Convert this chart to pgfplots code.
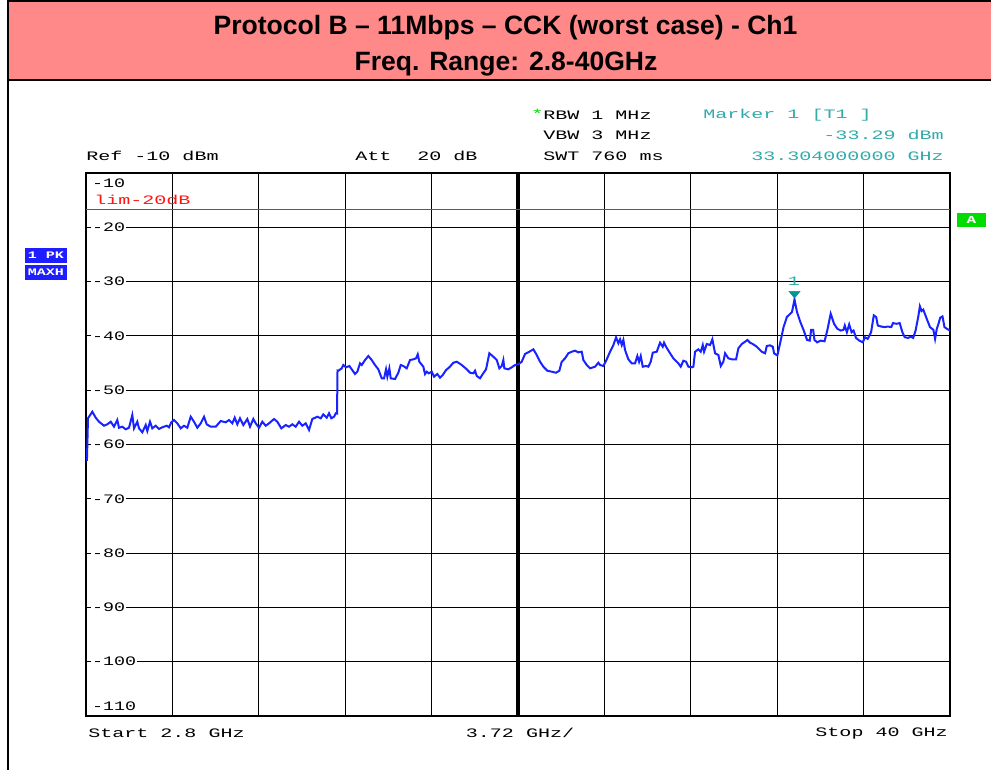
\documentclass[border=0pt]{standalone}
\usepackage{pgfplots}
\pgfplotsset{compat=1.18}
\usepackage{pgfplotstable}
\usepackage{fontspec}
\setmainfont{Liberation Sans}
\newfontfamily\rsmono[FakeStretch=1.55]{Liberation Mono}
\newfontfamily\rstick[FakeStretch=1.42]{Liberation Mono}
\newfontfamily\rsbold[FakeStretch=1.5]{Liberation Mono Bold}
\definecolor{salmon}{RGB}{255,136,136}
\definecolor{traceblue}{RGB}{25,35,255}
\definecolor{markteal}{RGB}{0,150,150}
\definecolor{txtteal}{RGB}{51,170,170}
\definecolor{limred}{RGB}{255,20,20}
\definecolor{agreen}{RGB}{0,220,0}
\definecolor{boxblue}{RGB}{30,30,255}

\pgfplotstableread{
f dB
2.80 -62.0
2.84 -63.0
2.886 -55.17
3.071 -53.96
3.218 -55.06
3.36 -55.80
3.575 -56.54
3.717 -56.28
3.864 -55.80
4.006 -56.72
4.148 -55.49
4.221 -56.91
4.363 -56.72
4.509 -57.20
4.652 -56.91
4.794 -54.57
4.867 -57.02
5.009 -55.80
5.082 -57.02
5.224 -57.75
5.371 -56.41
5.44 -57.51
5.556 -55.80
5.655 -57.02
5.801 -56.54
5.943 -57.14
6.085 -56.83
6.275 -56.54
6.374 -56.83
6.473 -55.91
6.589 -55.49
6.731 -56.10
6.878 -57.02
7.020 -56.54
7.162 -56.91
7.308 -54.88
7.450 -55.80
7.593 -56.91
7.739 -56.10
7.881 -54.88
7.997 -56.28
8.170 -56.72
8.385 -56.72
8.600 -55.67
8.815 -55.91
8.958 -55.49
9.100 -56.10
9.203 -55.06
9.315 -56.28
9.431 -55.17
9.573 -56.41
9.746 -55.30
9.862 -56.72
10.004 -55.30
10.107 -56.10
10.249 -56.91
10.391 -55.80
10.538 -56.54
10.680 -56.10
10.895 -55.30
11.037 -55.80
11.210 -57.02
11.399 -56.41
11.541 -56.72
11.683 -56.28
11.830 -56.72
11.972 -55.80
12.114 -56.54
12.260 -56.10
12.402 -57.33
12.544 -55.30
12.760 -54.88
12.906 -55.17
13.018 -54.44
13.165 -55.06
13.264 -54.25
13.363 -55.17
13.479 -54.88
13.552 -54.25
13.608 -54.30
13.629 -46.37
13.664 -46.41
13.810 -45.97
13.879 -45.36
13.996 -45.78
14.138 -45.54
14.241 -46.15
14.383 -47.02
14.482 -46.59
14.598 -45.05
14.671 -45.36
14.814 -44.44
14.956 -43.70
15.102 -44.44
15.244 -45.36
15.386 -46.15
15.533 -47.81
15.632 -47.81
15.718 -46.15
15.774 -47.51
15.860 -45.97
15.920 -47.81
16.105 -47.94
16.247 -46.78
16.351 -45.36
16.463 -45.54
16.609 -45.97
16.751 -44.44
16.893 -44.31
17.010 -44.13
17.083 -43.39
17.152 -44.75
17.324 -45.67
17.397 -47.02
17.470 -46.59
17.556 -46.89
17.686 -46.59
17.785 -47.51
17.927 -47.02
18.043 -47.70
18.159 -47.20
18.302 -46.28
18.444 -45.78
18.616 -44.94
18.762 -44.75
18.874 -45.05
18.978 -45.36
19.193 -46.15
19.335 -46.78
19.477 -46.89
19.550 -46.41
19.623 -47.38
19.766 -47.81
19.882 -47.02
20.024 -46.15
20.166 -43.20
20.338 -43.83
20.485 -44.44
20.597 -45.97
20.700 -45.54
20.769 -44.44
20.812 -45.97
20.984 -46.15
21.131 -45.78
21.273 -45.36
21.415 -45.23
21.561 -44.75
21.703 -43.33
21.888 -42.91
22.060 -42.47
22.207 -43.52
22.349 -44.75
22.491 -45.67
22.663 -46.41
22.853 -46.59
23.038 -46.78
23.180 -46.41
23.283 -44.75
23.425 -44.13
23.567 -43.20
23.714 -42.91
23.856 -42.72
23.998 -43.02
24.145 -42.91
24.214 -44.44
24.360 -45.36
24.502 -45.97
24.717 -45.67
24.860 -44.94
24.933 -45.36
25.075 -45.54
25.221 -44.31
25.363 -42.91
25.506 -41.68
25.622 -40.26
25.721 -41.36
25.794 -40.63
25.867 -41.68
25.936 -40.75
26.009 -42.60
26.151 -44.31
26.297 -45.05
26.439 -45.05
26.538 -43.70
26.612 -44.75
26.685 -43.70
26.771 -45.67
26.913 -45.54
27.012 -45.67
27.115 -44.75
27.202 -43.09
27.374 -42.91
27.516 -41.25
27.632 -41.99
27.688 -41.25
27.774 -41.99
27.947 -43.20
28.089 -44.13
28.304 -45.05
28.407 -45.67
28.519 -44.57
28.636 -44.75
28.735 -45.67
28.881 -45.78
28.950 -45.67
29.023 -42.91
29.165 -42.47
29.268 -42.91
29.355 -41.68
29.411 -42.91
29.527 -41.49
29.669 -41.68
29.768 -40.63
29.885 -43.20
30.027 -43.52
30.130 -45.54
30.242 -44.75
30.315 -43.20
30.457 -44.13
30.604 -44.31
30.789 -44.31
30.888 -42.28
31.034 -41.49
31.176 -41.07
31.275 -40.75
31.392 -41.25
31.508 -41.49
31.680 -41.99
31.895 -42.91
32.038 -43.20
32.111 -41.86
32.253 -41.73
32.369 -41.99
32.425 -43.20
32.567 -43.61
32.684 -41.36
32.834 -38.36
32.976 -36.52
33.122 -35.91
33.196 -35.60
33.304 -33.29
33.411 -35.60
33.556 -37.44
33.703 -39.01
33.845 -40.75
33.961 -40.87
34.022 -38.88
34.108 -38.88
34.164 -40.75
34.280 -41.18
34.427 -40.87
34.599 -40.99
34.715 -39.01
34.862 -35.91
35.008 -37.77
35.150 -38.69
35.297 -39.01
35.413 -38.88
35.469 -38.08
35.560 -39.32
35.659 -37.88
35.762 -39.32
35.848 -39.01
35.952 -40.37
36.094 -40.87
36.240 -41.18
36.343 -40.24
36.455 -40.55
36.602 -39.32
36.718 -36.22
36.821 -36.52
36.890 -38.08
37.036 -38.27
37.183 -38.38
37.325 -38.27
37.471 -38.38
37.545 -37.64
37.691 -37.77
37.833 -37.64
37.949 -39.32
38.053 -40.24
38.195 -40.37
38.311 -40.13
38.414 -40.37
38.518 -39.01
38.630 -36.52
38.703 -34.55
38.776 -35.41
38.849 -35.16
38.996 -36.83
39.138 -38.38
39.284 -38.88
39.357 -40.55
39.431 -38.69
39.504 -37.77
39.577 -36.65
39.676 -36.41
39.762 -38.38
39.866 -38.69
40.000 -39.01
}\trace

\begin{document}
\begin{tikzpicture}[x=0.75pt,y=-0.75pt]
\path[use as bounding box] (0,0) rectangle (991,769);
% title box
\draw[line width=1.5pt, fill=salmon] (8,1) rectangle (1000,80);
\draw[line width=1.2pt] (8,80) -- (8,770);
\node[font=\bfseries\fontsize{19.9}{22}\selectfont] at (505.5,28) {Protocol B – 11Mbps – CCK (worst case) - Ch1};
\node[font=\bfseries\fontsize{19.9}{22}\selectfont] at (506,64) {Freq. Range: 2.8-40GHz};

\begin{axis}[
  at={(64.5pt,-537pt)}, anchor=south west,
  scale only axis, width=648pt, height=407.25pt,
  xmin=2.8, xmax=40, ymin=-110, ymax=-10,
  xtick={2.8,6.52,10.24,13.96,17.68,21.4,25.12,28.84,32.56,36.28,40},
  ytick={-110,-100,-90,-80,-70,-60,-50,-40,-30,-20,-10},
  xticklabels={}, yticklabels={},
  major tick length=0pt,
  grid=major, grid style={black, line width=0.8pt},
  axis line style={line width=2.2pt},
  clip=true,
]
\draw[line width=3pt] (axis cs:21.4,-110) -- (axis cs:21.4,-10);
\addplot[draw=limred, line width=1.2pt, mark=none] coordinates {(2.8,-16.7) (40,-16.7)};
\addplot[traceblue, line width=1.5pt] table[x=f, y=dB] {\trace};
\addplot[only marks, mark=triangle*, mark size=4.8pt, color=markteal,
  mark options={yscale=-0.7, fill=markteal, draw=markteal}] coordinates {(33.304,-32.2)};
\end{axis}

% y labels
\begin{scope}[every node/.style={anchor=west, fill=white, inner sep=0.6pt, font=\rstick\fontsize{9.7}{10}\selectfont}]
\node at (91,183) {-10};
\node at (91,227.3) {-20};
\node at (91,281.6) {-30};
\node at (91,335.9) {-40};
\node at (91,390.2) {-50};
\node at (91,444.5) {-60};
\node at (91,498.8) {-70};
\node at (91,553.1) {-80};
\node at (91,607.4) {-90};
\node at (91,661.7) {-100};
\node at (91,706) {-110};
\end{scope}
\node[anchor=west, inner sep=0pt, text=limred, font=\rsmono\fontsize{9.7}{10}\selectfont] at (94,200) {lim-20dB};
\node[text=txtteal, font=\rsmono\fontsize{9.7}{10}\selectfont, inner sep=0pt] at (794,281) {1};

% header
\begin{scope}[every node/.style={anchor=west, inner sep=0pt, font=\rsmono\fontsize{9.7}{10}\selectfont}]
\node at (86,156) {Ref -10 dBm};
\node at (355,156) {Att};
\node at (417,156) {20 dB};
\node[text=agreen] at (531,114) {*};
\node at (543,115) {RBW 1 MHz};
\node at (543,135) {VBW 3 MHz};
\node at (543,156) {SWT 760 ms};
\node[text=txtteal] at (703,115) {Marker 1 [T1 ]};
\node[text=txtteal, anchor=east] at (944,135) {-33.29 dBm};
\node[text=txtteal, anchor=east] at (944,156) {33.304000000 GHz};
\node at (88,733) {Start 2.8 GHz};
\node[anchor=center] at (520,733) {3.72 GHz/};
\node[anchor=east] at (948,733) {Stop 40 GHz};
\end{scope}

% side boxes
\fill[agreen] (957,213) rectangle (986,227);
\node[text=white, font=\rsbold\fontsize{8}{9}\selectfont, inner sep=0pt] at (971.5,220) {A};
\fill[boxblue] (25,248) rectangle (67,263);
\fill[boxblue] (25,265) rectangle (67,280);
\node[text=white, font=\rsbold\fontsize{7.5}{8}\selectfont, inner sep=0pt] at (46,255.5) {1 PK};
\node[text=white, font=\rsbold\fontsize{7.5}{8}\selectfont, inner sep=0pt] at (46,272.5) {MAXH};
\end{tikzpicture}
\end{document}
